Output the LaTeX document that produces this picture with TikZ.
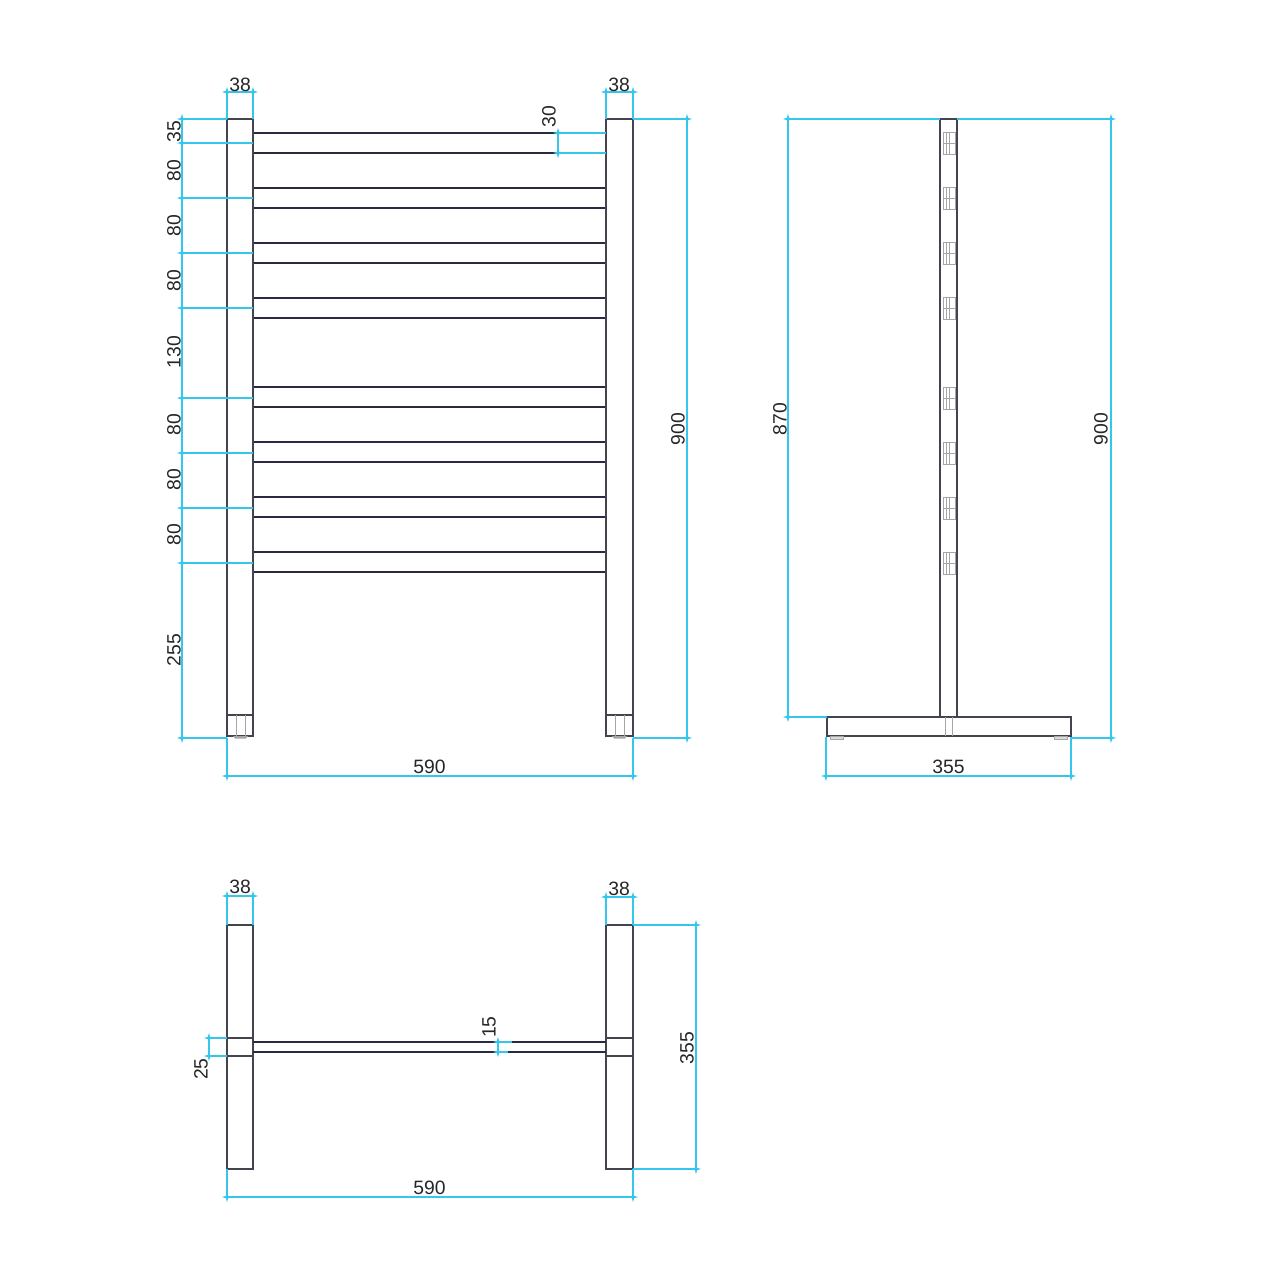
\documentclass[tikz,border=0pt]{standalone}
\usepackage{fontspec}
\setmainfont{Liberation Sans}
\definecolor{dimc}{HTML}{35C6EE}
\definecolor{barc}{HTML}{44444E}
\definecolor{railc}{HTML}{2A2A42}
\definecolor{fine}{HTML}{A6A6A6}
\tikzset{
  x=0.01cm,y=-0.01cm,
  bar/.style={draw=barc,line width=0.42pt},
  rail/.style={draw=railc,line width=0.34pt},
  fineline/.style={draw=fine,line width=0.2pt},
  dimline/.style={draw=dimc,line width=0.36pt},
  dimtext/.style={font=\fontsize{5.5pt}{6pt}\selectfont,text=black!85,inner sep=0pt},
  vtext/.style={dimtext,rotate=90},
  tick/.pic={\fill[dimc] (-5,0)--(0,-1.5)--(5,0)--(0,1.5)--cycle;
             \fill[dimc] (0,-5)--(1.5,0)--(0,5)--(-1.5,0)--cycle;}
}
\begin{document}
\begin{tikzpicture}
\useasboundingbox (0,0) rectangle (1280,1280);
% ---------- front view
\foreach \a/\b in {133/153,188/208,243/263,298/318,387/407,442/462,497/517,552/572}{
  \draw[rail] (253,\a)--(606,\a) (253,\b)--(606,\b);
}
\foreach \l/\r in {227/253,606/633}{
  \draw[bar] (\l,119) rectangle (\r,736);
  \draw[bar] (\l,715)--(\r,715);
  \draw[fineline] (\l+9,715)--(\l+9,736) (\l+18,715)--(\l+18,736);
  \fill[fine] (\l+6,736)--(\l+21,736)--(\l+19,738.5)--(\l+8,738.5)--cycle;
}
% ---------- side view
\foreach \c in {143,198,253,308,398,453,508,563}{
  \draw[fineline] (943,\c-11) rectangle (955,\c+11);
  \draw[fineline] (943,\c)--(955,\c) (949,\c-11)--(949,\c+11) (946,\c-11)--(946,\c+11);
}
\draw[bar] (940,119) rectangle (957,717);
\draw[bar] (827,717) rectangle (1071,736);
\draw[fineline] (945,717)--(945,736) (952,717)--(952,736);
\draw[fine,fill=fine!40,line width=0.25pt] (830,736) rectangle (843,739);
\draw[fine,fill=fine!40,line width=0.25pt] (1054,736) rectangle (1067,739);
% ---------- plan view
\foreach \l/\r in {227/253,606/633}{
  \draw[bar] (\l,925) rectangle (\r,1169);
  \draw[bar] (\l,1038)--(\r,1038) (\l,1056)--(\r,1056);
}
\draw[rail] (253,1042)--(606,1042) (253,1052)--(606,1052);
% ---------- dimension lines: front view
\draw[dimline] (182,119)--(227,119) (182,143)--(253,143) (182,198)--(253,198) (182,253)--(253,253)
  (182,308)--(253,308) (182,398)--(253,398) (182,453)--(253,453) (182,508)--(253,508) (182,563)--(253,563)
  (182,738)--(227,738) (182,119)--(182,738);
\foreach \y in {119,143,198,253,308,398,453,508,563,738} \pic at (182,\y) {tick};
\draw[dimline] (227,92)--(227,119) (253,92)--(253,119) (225,92)--(255,92);
\pic at (227,92) {tick}; \pic at (253,92) {tick};
\draw[dimline] (606,92)--(606,119) (633,92)--(633,119) (604,92)--(635,92);
\pic at (606,92) {tick}; \pic at (633,92) {tick};
\draw[dimline] (558,133)--(606,133) (558,153)--(606,153) (558,133)--(558,153);
\pic at (558,133) {tick}; \pic at (558,153) {tick};
\draw[dimline] (633,119)--(687,119) (633,738)--(687,738) (687,119)--(687,738);
\pic at (687,119) {tick}; \pic at (687,738) {tick};
\draw[dimline] (227,738)--(227,776) (633,738)--(633,776) (226,776)--(633,776);
\pic at (227,776) {tick}; \pic at (633,776) {tick};
% ---------- dimension lines: side view
\draw[dimline] (788,119)--(940,119) (957,119)--(1111,119) (788,717)--(827,717) (788,119)--(788,717);
\pic at (788,119) {tick}; \pic at (788,717) {tick};
\draw[dimline] (1071,738)--(1111,738) (1111,119)--(1111,738);
\pic at (1111,119) {tick}; \pic at (1111,738) {tick};
\draw[dimline] (826,737)--(826,776) (1071,737)--(1071,776) (826,776)--(1071,776);
\pic at (826,776) {tick}; \pic at (1071,776) {tick};
% ---------- dimension lines: plan view
\draw[dimline] (227,896)--(227,925) (253,896)--(253,925) (225,896)--(255,896);
\pic at (227,896) {tick}; \pic at (253,896) {tick};
\draw[dimline] (606,897)--(606,925) (633,897)--(633,925) (604,897)--(635,897);
\pic at (606,897) {tick}; \pic at (633,897) {tick};
\draw[dimline] (633,925)--(696,925) (633,1169)--(696,1169) (696,925)--(696,1169);
\pic at (696,925) {tick}; \pic at (696,1169) {tick};
\draw[dimline] (227,1169)--(227,1197) (633,1169)--(633,1197) (226,1197)--(633,1197);
\pic at (227,1197) {tick}; \pic at (633,1197) {tick};
\draw[dimline] (209,1038)--(227,1038) (209,1056)--(227,1056) (209,1038)--(209,1056);
\pic at (209,1038) {tick}; \pic at (209,1056) {tick};
\draw[dimline] (498,1042)--(498,1052) (498,1042)--(512,1042) (498,1052)--(508,1052);
\pic at (498,1042) {tick}; \pic at (498,1052) {tick};
% ---------- labels
\node[dimtext] (ta) at (240,84.5) {38};
\node[dimtext] (tb) at (619,84.5) {38};
\node[vtext] (tc) at (174,131.5) {35};
\node[vtext] (td) at (174,171) {80};
\node[vtext] (te) at (174,226) {80};
\node[vtext] (tf) at (174,281) {80};
\node[vtext] (tg) at (174,352) {130};
\node[vtext] (th) at (174,425) {80};
\node[vtext] (ti) at (174,480) {80};
\node[vtext] (tj) at (174,535) {80};
\node[vtext] (tk) at (174,650) {255};
\node[vtext] (tl) at (549,117) {30};
\node[vtext] (tm) at (678,429) {900};
\node[dimtext] (tn) at (429.5,767) {590};
\node[vtext] (to) at (780,419) {870};
\node[vtext] (tp) at (1101,429) {900};
\node[dimtext] (tq) at (948.5,767) {355};
\node[dimtext] (tr) at (240,887) {38};
\node[dimtext] (ts) at (619,889) {38};
\node[vtext] (tt) at (687,1048) {355};
\node[vtext] (tu) at (489,1027) {15};
\node[vtext] (tv) at (201,1069) {25};
\node[dimtext] (tw) at (429.5,1188) {590};
\end{tikzpicture}
\end{document}
